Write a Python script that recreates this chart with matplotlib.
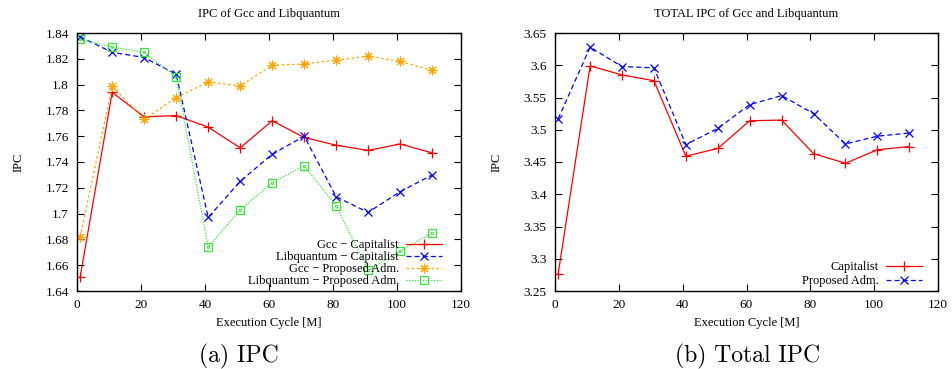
import matplotlib
matplotlib.use("Agg")
import matplotlib.pyplot as plt
from matplotlib.ticker import FixedLocator, FixedFormatter

# ---- data ----
cycles = [1, 11, 21, 31, 41, 51, 61, 71, 81, 91, 101, 111]

gcc_cap = [1.651, 1.794, 1.775, 1.776, 1.767, 1.751, 1.772, 1.759, 1.753, 1.749, 1.754, 1.747]
lib_cap = [1.837, 1.825, 1.821, 1.808, 1.697, 1.725, 1.746, 1.760, 1.713, 1.701, 1.717, 1.730]
gcc_prop = [1.682, 1.799, 1.773, 1.790, 1.802, 1.799, 1.815, 1.816, 1.819, 1.822, 1.818, 1.811]
lib_prop = [1.835, 1.829, 1.825, 1.806, 1.674, 1.703, 1.724, 1.737, 1.706, 1.656, 1.671, 1.685]

total_cap = [3.277, 3.599, 3.585, 3.576, 3.459, 3.471, 3.514, 3.515, 3.463, 3.448, 3.469, 3.474]
total_prop = [3.517, 3.628, 3.598, 3.596, 3.477, 3.502, 3.539, 3.553, 3.525, 3.478, 3.490, 3.495]

left_yticks = [1.64, 1.66, 1.68, 1.70, 1.72, 1.74, 1.76, 1.78, 1.80, 1.82, 1.84]
left_ylabels = ["1.64", "1.66", "1.68", "1.7", "1.72", "1.74", "1.76", "1.78", "1.8", "1.82", "1.84"]
right_yticks = [3.25, 3.30, 3.35, 3.40, 3.45, 3.50, 3.55, 3.60, 3.65]
right_ylabels = ["3.25", "3.3", "3.35", "3.4", "3.45", "3.5", "3.55", "3.6", "3.65"]
xticks = [0, 20, 40, 60, 80, 100, 120]

labels_left = ["Gcc \u2212 Capitalist", "Libquantum \u2212 Capitalist",
               "Gcc \u2212 Proposed Adm.", "Libquantum \u2212 Proposed Adm."]
labels_right = ["Capitalist", "Proposed Adm."]

# ---- style ----
FONT = "Liberation Serif"
FS = 9
plt.rcParams["font.family"] = [FONT, "DejaVu Serif"]
plt.rcParams["font.size"] = FS

RED = "#ff0000"
BLUE = "#0000ff"
ORANGE = "#ffa500"
GREEN = "#33e633"

fig = plt.figure(figsize=(9.52, 3.69), dpi=100)
W, H = 952.0, 369.0
axL = fig.add_axes([77 / W, 1 - 291 / H, (461 - 77) / W, (291 - 33) / H])
axR = fig.add_axes([555 / W, 1 - 291 / H, (938 - 555) / W, (291 - 33) / H])


def style_axes(ax, yticks, ylabels, ylim):
    ax.set_xlim(0, 120)
    ax.set_ylim(*ylim)
    ax.xaxis.set_major_locator(FixedLocator(xticks))
    ax.yaxis.set_major_locator(FixedLocator(yticks))
    ax.yaxis.set_major_formatter(FixedFormatter(ylabels))
    ax.tick_params(direction="in", length=5, width=0.8, top=True, right=True,
                   labelsize=9.5, pad=6)
    for s in ax.spines.values():
        s.set_linewidth(1.0)


lw = 0.9
axL.plot(cycles, gcc_cap, color=RED, lw=lw, ls="-", marker="+", ms=7, mew=0.9,
         label=labels_left[0])
axL.plot(cycles, lib_cap, color=BLUE, lw=lw, ls=(0, (4, 2.5)), marker="x", ms=5.5, mew=0.9,
         label=labels_left[1])
axL.plot(cycles, gcc_prop, color=ORANGE, lw=lw, ls=(0, (2, 2)), marker=(8, 2, 0), ms=7, mew=0.8,
         label=labels_left[2])
axL.plot(cycles, lib_prop, color=GREEN, lw=lw, ls=(0, (1, 1.2)), marker="s", ms=5.5, mew=0.9,
         mfc="none", label=labels_left[3])
axL.plot(cycles, lib_prop, ls="none", marker="s", ms=1.3, mew=0.6, mfc="none", color=GREEN)
style_axes(axL, left_yticks, left_ylabels, (1.64, 1.84))

axR.plot(cycles, total_cap, color=RED, lw=lw, ls="-", marker="+", ms=7, mew=0.9,
         label=labels_right[0])
axR.plot(cycles, total_prop, color=BLUE, lw=lw, ls=(0, (4, 2.5)), marker="x", ms=5.5, mew=0.9,
         label=labels_right[1])
style_axes(axR, right_yticks, right_ylabels, (3.25, 3.65))

legkw = dict(frameon=False, markerfirst=False, fontsize=FS, handlelength=2.9,
             handletextpad=0.55, labelspacing=0.0, borderaxespad=0.0)
hL, lL = axL.get_legend_handles_labels()
axL.legend(hL[:4], lL[:4], loc="lower right", bbox_to_anchor=(447 / W, 1 - 292 / H),
           bbox_transform=fig.transFigure, **legkw)
axR.legend(loc="lower right", bbox_to_anchor=(927 / W, 1 - 292 / H),
           bbox_transform=fig.transFigure, labelspacing=0.15,
           **{k: v for k, v in legkw.items() if k != "labelspacing"})

# titles & axis labels
for ax, title, cx in ((axL, "IPC of Gcc and Libquantum", (77 + 461) / 2),
                      (axR, "TOTAL IPC of Gcc and Libquantum", (555 + 938) / 2)):
    fig.text(cx / W, 1 - 14 / H, title, ha="center", va="center", fontsize=FS)
    fig.text(cx / W, 1 - 323 / H, "Execution Cycle [M]", ha="center", va="center", fontsize=FS)

fig.text(19 / W, 1 - 162 / H, "IPC", ha="center", va="center", rotation=90, fontsize=FS)
fig.text(497 / W, 1 - 162 / H, "IPC", ha="center", va="center", rotation=90, fontsize=FS)

# sub-captions
fig.text(239 / W, 1 - 356 / H, "(a) IPC", ha="center", va="center", fontsize=17,
         family=["cmr10", "DejaVu Serif"])
fig.text(748 / W, 1 - 356 / H, "(b) Total IPC", ha="center", va="center", fontsize=17,
         family=["cmr10", "DejaVu Serif"])

fig.savefig("out.png", dpi=100)
